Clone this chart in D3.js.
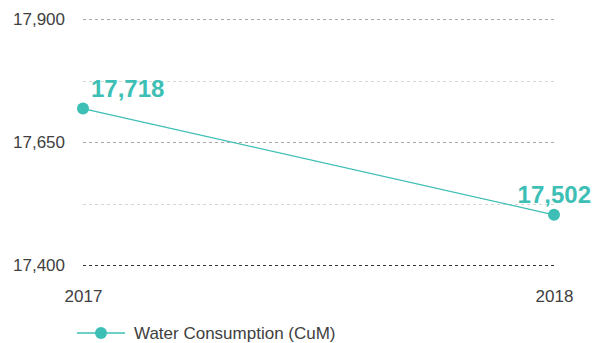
<!DOCTYPE html>
<html>
<head>
<meta charset="utf-8">
<script src="https://cdn.jsdelivr.net/npm/d3@7"></script>
<style>
  html, body { margin: 0; padding: 0; background: #fff; }
  svg { display: block; font-family: "Liberation Sans", Arial, sans-serif; }
</style>
</head>
<body>
<svg id="chart" width="598" height="343"></svg>
<script>
// Water consumption per year (cubic metres)
const years = ["2017", "2018"];
const consumption = [17718, 17502];
const yTicks = [17400, 17650, 17900];
const yMinorTicks = [17525, 17775];
const seriesName = "Water Consumption (CuM)";

const teal = "#3dbfb5";
const textColor = "#404040";
const svg = d3.select("#chart");

const x = d3.scalePoint().domain(years).range([83, 554]);
const y = d3.scaleLinear().domain([17400, 17900]).range([265, 19]);

const fmt = d3.format(",");

// Horizontal grid lines
const grid = svg.append("g");
grid.selectAll("line.minor")
  .data(yMinorTicks)
  .join("line")
  .attr("class", "minor")
  .attr("x1", 83).attr("x2", 556)
  .attr("y1", d => Math.round(y(d)) + 0.5).attr("y2", d => Math.round(y(d)) + 0.5)
  .attr("stroke", "#d6d6d6")
  .attr("stroke-dasharray", "3,3");
grid.selectAll("line.major")
  .data(yTicks)
  .join("line")
  .attr("class", "major")
  .attr("x1", 83).attr("x2", 556)
  .attr("y1", d => Math.round(y(d)) + 0.5).attr("y2", d => Math.round(y(d)) + 0.5)
  .attr("stroke", d => d === 17400 ? "#333" : "#a8a8a8")
  .attr("stroke-dasharray", "3,3");

// Y axis labels
const yAxis = d3.axisLeft(y).tickValues(yTicks).tickFormat(fmt).tickSize(0).tickPadding(0);
const yg = svg.append("g").attr("transform", "translate(65,0)").call(yAxis);
yg.select(".domain").remove();
yg.selectAll("text")
  .attr("font-size", 17)
  .attr("fill", textColor)
  .attr("font-family", "'Liberation Sans', Arial, sans-serif");

// X axis labels
const xAxis = d3.axisBottom(x).tickSize(0).tickPadding(0);
const xg = svg.append("g").attr("transform", "translate(0,290)").call(xAxis);
xg.select(".domain").remove();
xg.selectAll("text")
  .attr("font-size", 17)
  .attr("fill", textColor)
  .attr("font-family", "'Liberation Sans', Arial, sans-serif");

// Series line
const line = d3.line().x((d, i) => x(years[i])).y(d => y(d));
svg.append("path")
  .datum(consumption)
  .attr("d", line)
  .attr("fill", "none")
  .attr("stroke", teal)
  .attr("stroke-width", 1.3);

svg.selectAll("circle.pt")
  .data(consumption)
  .join("circle")
  .attr("class", "pt")
  .attr("cx", (d, i) => x(years[i]))
  .attr("cy", d => y(d))
  .attr("r", 6)
  .attr("fill", teal);

// Value labels
svg.selectAll("text.val")
  .data(consumption)
  .join("text")
  .attr("class", "val")
  .attr("x", (d, i) => i === 0 ? x(years[i]) + 8 : x(years[i]) + 37)
  .attr("y", d => y(d) - 12)
  .attr("text-anchor", (d, i) => i === 0 ? "start" : "end")
  .attr("font-size", 24)
  .attr("font-weight", "bold")
  .attr("fill", teal)
  .text(d => fmt(d));

// Legend
const lg = svg.append("g").attr("transform", "translate(0,333)");
lg.append("line")
  .attr("x1", 77).attr("x2", 125).attr("y1", 0).attr("y2", 0)
  .attr("stroke", teal).attr("stroke-width", 1.3);
lg.append("circle").attr("cx", 101).attr("cy", 0).attr("r", 6).attr("fill", teal);
lg.append("text")
  .attr("x", 134).attr("y", 6)
  .attr("font-size", 17)
  .attr("fill", textColor)
  .text(seriesName);
</script>
</body>
</html>
